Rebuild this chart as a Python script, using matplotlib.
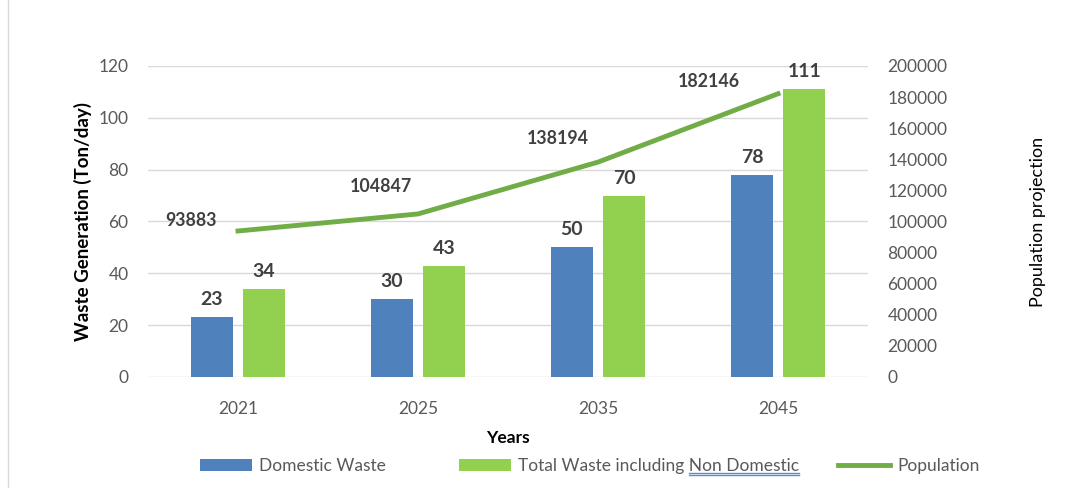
import matplotlib.pyplot as plt
from matplotlib.lines import Line2D
import numpy as np

plt.rcParams['font.family'] = ['Lato', 'DejaVu Sans']

years = ['2021', '2025', '2035', '2045']
domestic = [23, 30, 50, 78]
total = [34, 43, 70, 111]
population = [93883, 104847, 138194, 182146]

blue = '#4F81BD'
green = '#92D050'
line_green = '#70AD47'
tick_gray = '#595959'
label_gray = '#404040'

fig = plt.figure(figsize=(10.77, 4.88), dpi=100)
ax = fig.add_axes([0.1374, 0.2275, 0.806 - 0.1374, 0.8648 - 0.2275])
ax2 = ax.twinx()

x = np.arange(len(years))
w = 0.235
off = 0.145

b1 = ax.bar(x - off, domestic, w, color=blue, label='Domestic Waste', zorder=3)
b2 = ax.bar(x + off, total, w, color=green, label='Total Waste including Non Domestic', zorder=3)

# value labels above bars
for rect, v in zip(list(b1) + list(b2), domestic + total):
    ax.annotate(str(v), (rect.get_x() + rect.get_width() / 2, rect.get_height()),
                xytext=(0, 9), textcoords='offset pixels', ha='center', va='bottom',
                fontsize=14, fontweight='bold', color=label_gray)

ax.set_ylim(0, 120)
ax.set_yticks(np.arange(0, 121, 20))
ax.set_xlim(-0.5, 3.5)
ax.set_xticks(x)
ax.set_xticklabels(years)
ax.grid(axis='y', color='#D9D9D9', linewidth=1, zorder=0)
ax.set_axisbelow(True)
ax.tick_params(axis='both', length=0, labelsize=12.5, labelcolor=tick_gray)
ax.tick_params(axis='x', pad=17)
ax.tick_params(axis='y', pad=14)
for s in ax.spines.values():
    s.set_visible(False)
ax.set_ylabel('Waste Generation (Ton/day)', fontsize=13.5, fontweight='bold', labelpad=5)
ax.set_xlabel('Years', fontsize=12.5, fontweight='bold', labelpad=10)

ln, = ax2.plot(x, population, color=line_green, linewidth=3.5, label='Population', zorder=4)
ax2.set_ylim(0, 200000)
ax2.set_yticks(np.arange(0, 200001, 20000))
ax2.tick_params(axis='y', length=0, labelsize=12.5, labelcolor=tick_gray, pad=14)
for s in ax2.spines.values():
    s.set_visible(False)
ax2.set_ylabel('Population projection', fontsize=13, labelpad=59)

pop_offsets = [(-47, 10), (-37, 27), (-40, 24), (-69, 12)]
for xi, p, o in zip(x, population, pop_offsets):
    ax2.annotate(str(p), (xi, p), xytext=o, textcoords='offset pixels',
                 ha='center', va='center', fontsize=12.8, fontweight='bold', color=label_gray)

# legend: bars on the left, line on the right
leg_kw = dict(frameon=False, fontsize=12.5, handlelength=3.0, handleheight=0.75,
              handletextpad=0.4, borderpad=0, borderaxespad=0, labelcolor=tick_gray)
leg1 = fig.legend(handles=[b1, b2], loc='center left', bbox_to_anchor=(200 / 1077, 0.045),
                  ncol=2, columnspacing=4.2, **leg_kw)
leg2 = fig.legend(handles=[ln], loc='center left', bbox_to_anchor=(838 / 1077, 0.045), **leg_kw)

# spell-check style double underline below "Non Domestic"
fig.canvas.draw()
r = fig.canvas.get_renderer()
t = leg1.get_texts()[1]
bb = t.get_window_extent(r)
tmp = fig.text(0, 0, 'Total Waste including ', fontsize=12.5)
pre = tmp.get_window_extent(r).width
tmp.remove()
x0 = (bb.x0 + pre) / 1077
x1 = bb.x1 / 1077
for yy in (bb.y0 + 1, bb.y0 - 1):
    fig.add_artist(Line2D([x0, x1], [yy / 488, yy / 488], color='#5B8BD9', linewidth=1.0))

fig.add_artist(Line2D([8 / 1077, 8 / 1077], [0, 1], color='#D9D9D9', linewidth=1))

fig.savefig('out.png', dpi=100)
